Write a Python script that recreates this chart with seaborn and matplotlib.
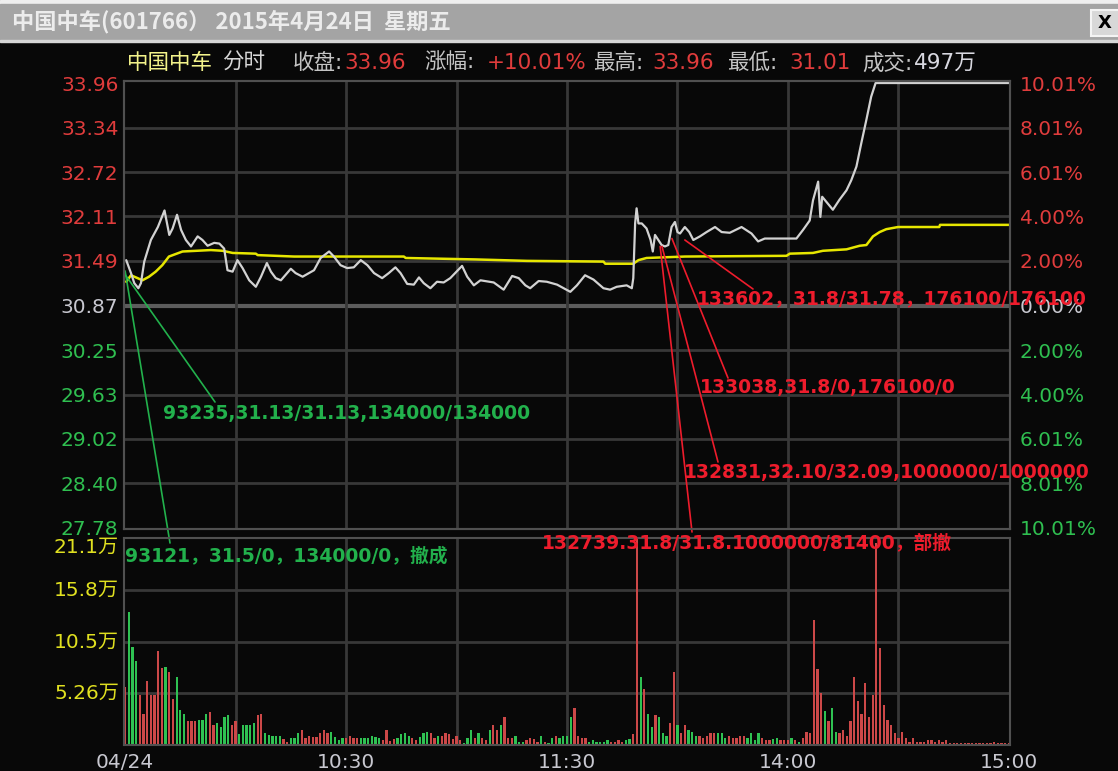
import pandas as pd
import seaborn as sns
import matplotlib.pyplot as plt
import matplotlib.transforms as mtransforms
from matplotlib.patches import Rectangle

# 1) Data (minutes counted from 9:30, lunch break removed)
price_min = [0.3, 1.6, 2.5, 3.6, 4.3, 5.2, 7.0, 8.9, 10.7, 12.0, 12.9, 14.1, 15.2, 16.5, 17.9,
             19.7, 21.0, 22.4, 24.2, 25.6, 26.9, 27.8, 29.2, 30.5, 31.9, 33.7, 35.5, 36.9, 38.5,
             39.6, 40.9, 42.3, 45.0, 46.3, 48.2, 51.3, 53.1, 55.4, 56.7, 58.5, 60.3, 62.1, 64.0,
             65.8, 67.6, 69.8, 71.6, 73.4, 74.8, 76.6, 78.4, 79.8, 81.1, 82.9, 84.7, 86.5, 88.3,
             91.5, 92.9, 94.7, 96.5, 100.1, 102.8, 105.1, 106.9, 108.7, 110.0, 112.3, 114.5,
             117.3, 120.9, 122.7, 124.9, 127.2, 129.9, 131.7, 133.5, 136.2, 137.6, 138.0, 138.5,
             138.9, 139.4, 140.3, 141.6, 142.7, 143.3, 143.9, 144.8, 145.7, 146.6, 147.5, 148.4,
             149.3, 150.0, 150.7, 152.0, 153.2, 154.3, 156.1, 157.9, 160.2, 162.0, 164.2, 167.4,
             170.1, 171.9, 173.7, 176.0, 179.6, 182.3, 184.1, 185.9, 186.8, 188.2, 188.8, 189.3,
             192.2, 194.0, 195.9, 197.2, 198.6, 199.9, 201.3, 202.6, 203.8, 240.0]
price_val = [31.50, 31.32, 31.18, 31.11, 31.18, 31.48, 31.78, 31.96, 32.19, 31.85, 31.94, 32.13,
             31.92, 31.78, 31.69, 31.83, 31.78, 31.70, 31.74, 31.73, 31.66, 31.36, 31.34, 31.50,
             31.39, 31.22, 31.13, 31.27, 31.46, 31.34, 31.25, 31.22, 31.38, 31.32, 31.27, 31.36,
             31.53, 31.62, 31.55, 31.43, 31.39, 31.40, 31.50, 31.43, 31.32, 31.25, 31.32, 31.40,
             31.32, 31.17, 31.16, 31.26, 31.18, 31.11, 31.20, 31.19, 31.25, 31.42, 31.27, 31.15,
             31.22, 31.19, 31.09, 31.28, 31.25, 31.15, 31.11, 31.21, 31.20, 31.16, 31.06, 31.15,
             31.29, 31.23, 31.11, 31.09, 31.13, 31.15, 31.11, 31.25, 32.01, 32.22, 32.01, 32.01,
             31.94, 31.78, 31.62, 31.85, 31.78, 31.71, 31.69, 31.71, 31.96, 32.03, 31.89, 31.87,
             31.96, 31.89, 31.78, 31.83, 31.89, 31.96, 31.89, 31.88, 31.96, 31.87, 31.76, 31.80,
             31.80, 31.80, 31.80, 31.92, 32.05, 32.33, 32.59, 32.10, 32.38, 32.20, 32.34, 32.47,
             32.61, 32.80, 33.12, 33.45, 33.77, 33.96, 33.96]

avg_min = [0.3, 1.6, 3.4, 4.7, 6.5, 8.3, 10.1, 11.9, 15.6, 23.3, 26.5, 29.2, 35.5, 36.0, 45.9,
           75.7, 76.2, 95.1, 109.1, 129.9, 130.4, 138.0, 139.4, 141.6, 152.0, 179.6, 180.5,
           186.8, 189.5, 195.9, 199.5, 201.3, 203.1, 204.9, 206.7, 209.9, 221.1, 221.3, 240.0]
avg_val = [31.20, 31.29, 31.25, 31.22, 31.27, 31.34, 31.43, 31.55, 31.62, 31.64, 31.63, 31.60,
           31.59, 31.57, 31.55, 31.55, 31.53, 31.51, 31.49, 31.48, 31.45, 31.45, 31.50, 31.53,
           31.55, 31.56, 31.59, 31.60, 31.63, 31.65, 31.70, 31.71, 31.83, 31.89, 31.93, 31.96,
           31.96, 31.99, 31.99]

# volume per minute, in 万
vol = [5.95, 13.57, 10.03, 8.59, 5.09, 3.16, 6.53, 5.09, 5.09, 9.62,
       7.84, 7.90, 7.49, 4.71, 6.94, 3.61, 3.16, 2.41, 2.41, 2.41,
       2.58, 2.58, 3.16, 3.40, 2.06, 2.23, 1.79, 2.82, 3.02, 2.06,
       2.41, 1.10, 2.06, 1.99, 2.06, 2.23, 3.02, 3.16, 1.24, 1.03,
       0.96, 0.96, 0.96, 0.62, 0.34, 0.76, 0.76, 1.20, 1.55, 0.69,
       0.96, 0.86, 0.86, 1.20, 1.55, 1.20, 1.37, 0.86, 0.52, 0.76,
       0.69, 0.96, 0.69, 0.76, 0.69, 0.69, 0.76, 0.96, 0.86, 0.69,
       0.52, 1.55, 0.41, 0.62, 0.69, 1.10, 1.20, 0.96, 0.69, 0.52,
       0.86, 1.20, 1.37, 1.20, 0.69, 0.96, 0.96, 1.20, 1.10, 0.62,
       0.96, 0.52, 0.17, 0.69, 1.55, 0.69, 1.20, 0.69, 0.52, 1.55,
       1.99, 1.55, 1.99, 2.82, 0.76, 0.76, 0.96, 0.34, 0.34, 0.52,
       0.76, 0.62, 0.34, 0.96, 0.34, 0.17, 0.76, 0.96, 0.76, 0.96,
       0.96, 2.82, 3.78, 0.96, 0.76, 0.76, 0.34, 0.52, 0.34, 0.34,
       0.34, 0.52, 0.34, 0.34, 0.52, 0.34, 0.52, 0.62, 1.15, 21.5,
       6.94, 5.67, 3.16, 1.79, 3.02, 2.82, 1.20, 0.96, 2.23, 7.49,
       1.99, 1.20, 1.99, 1.55, 1.37, 0.96, 0.96, 0.76, 0.96, 1.20,
       1.20, 1.20, 1.20, 0.76, 0.96, 0.76, 0.76, 0.96, 0.96, 0.76,
       1.20, 0.52, 1.20, 0.76, 0.52, 0.52, 0.62, 0.76, 0.52, 0.52,
       0.52, 0.76, 0.52, 0.34, 0.76, 1.37, 1.20, 12.78, 7.73, 5.26,
       3.44, 2.41, 3.78, 1.37, 1.20, 1.55, 0.96, 2.41, 6.94, 4.47,
       3.16, 6.36, 2.82, 5.09, 20.6, 9.90, 4.12, 2.58, 1.99, 1.20,
       0.76, 1.37, 0.76, 0.34, 0.76, 0.34, 0.34, 0.34, 0.52, 0.52,
       0.34, 0.52, 0.34, 0.52, 0.17, 0.17, 0.20, 0.17, 0.17, 0.17,
       0.20, 0.17, 0.17, 0.20, 0.17, 0.17, 0.34, 0.20, 0.17, 0.20,
       0.17]
# r = up tick (red), g = down tick (green)
vol_dir = list("rgggrrrrrr" "rgrrgggrrr" "gggrrggggr" "rgggggrrgg" "gggrrgggrr"
               "rrrrrrgggg" "rrrrgggggg" "rrrrggggrr" "gggrrgrrrr" "rrgggrgrrg"
               "rrgrrrgggr" "rrrgrggrgg" "ggrrrrgggg" "ggrrrrggrr" "grggrgggrr"
               "grrgggrrrr" "rgggrrrrrg" "gggrrrggrr" "rgrgrrrrrr" "grggrrrrrr"
               "rrrrrrrrrr" "rrrrrrrrrr" "rrrrrrrrrr" "rrrrrrrrrr" "r")

prev_close = 30.87
price_ticks = [33.96, 33.34, 32.72, 32.11, 31.49, 30.87, 30.25, 29.63, 29.02, 28.40, 27.78]
pct_labels = ['10.01%', '8.01%', '6.01%', '4.00%', '2.00%', '0.00%',
              '2.00%', '4.00%', '6.01%', '8.01%', '10.01%']
vol_ticks = [5.26, 10.5, 15.8, 21.1]
vol_labels = ['5.26万', '10.5万', '15.8万', '21.1万']
time_ticks = [0, 60, 120, 180, 240]
time_labels = ['04/24', '10:30', '11:30', '14:00', '15:00']

close_px, change_pct, high_px, low_px, total_vol = 33.96, 10.01, 33.96, 31.01, 497

# order annotations: text, start point on the price line, colour
ann_text = ['93235,31.13/31.13,134000/134000', '93121，31.5/0，134000/0，撤成',
            '133602，31.8/31.78，176100/176100', '133038,31.8/0,176100/0',
            '132831,32.10/32.09,1000000/1000000', '132739.31.8/31.8.1000000/81400，部撤']
ann_min = [0.0, 0.0, 152.0, 148.5, 145.8, 145.3]
ann_price = [31.30, 31.35, 31.78, 31.80, 31.69, 31.69]
ann_up = [False, False, True, True, True, True]

# 2) Style
sns.set_theme(style="dark", rc={'axes.facecolor': '#080808', 'figure.facecolor': '#080808'})
plt.rcParams['font.family'] = ['DejaVu Sans', 'Noto Sans CJK SC']
plt.rcParams['axes.unicode_minus'] = False

W, H = 1118, 771
BG = '#080808'
GRID = '#383838'
RED = '#e03c3c'
GREEN = '#2fbf50'
GRAY = '#c4c4c4'
ANN_RED = '#ee1c2c'
ANN_GREEN = '#22b14c'

fig = plt.figure(figsize=(W / 100, H / 100), dpi=100, facecolor=BG)


def rect(l, t, r, b):
    return [l / W, 1 - b / H, (r - l) / W, (b - t) / H]


def ftext(x, y, s, **kw):
    return fig.text(x / W, 1 - y / H, s, **kw)


# title bar
fig.add_artist(Rectangle((0, 1 - 4 / H), 1, 4 / H, transform=fig.transFigure, color='#efefef'))
fig.add_artist(Rectangle((0, 1 - 40 / H), 1, 36 / H, transform=fig.transFigure, color='#a4a4a4'))
fig.add_artist(Rectangle((0, 1 - 42 / H), 1, 2 / H, transform=fig.transFigure, color='#d6d6d6'))
ftext(12, 22, '中国中车(601766） 2015年4月24日  星期五', color='#ececec', fontsize=16,
      fontweight='bold', va='center', family=['Noto Sans CJK SC', 'DejaVu Sans'])
fig.add_artist(Rectangle((1091 / W, 1 - 36 / H), 30 / W, 26 / H, transform=fig.transFigure,
                         facecolor='#d8d8d8', edgecolor='#f4f4f4', lw=1.5))
ftext(1105, 23, 'X', color='black', fontsize=13, fontweight='bold', ha='center', va='center')

# header line
header = [(127, '中国中车', '#f2f28a'), (222, '分时', '#d6d6d6'), (293, '收盘:', GRAY),
          (344, f'{close_px:.2f}', RED), (424, '涨幅:', GRAY), (487, f'+{change_pct:.2f}%', RED),
          (593, '最高:', GRAY), (652, f'{high_px:.2f}', RED), (727, '最低:', GRAY),
          (789, f'{low_px:.2f}', RED), (862, '成交:', GRAY), (914, f'{total_vol}万', '#d8d8e0')]
for x, s, c in header:
    ftext(x, 63, s, color=c, fontsize=15.5, va='center')

# 3) Price panel
ax = fig.add_axes(rect(124, 81, 1010, 529))
axv = fig.add_axes(rect(124, 538, 1010, 745))
for a in (ax, axv):
    a.set_facecolor(BG)
    a.grid(False)
    for sp in a.spines.values():
        sp.set_color('#505050')
        sp.set_linewidth(1.5)
axv.patch.set_visible(False)

for p in price_ticks[1:-1]:
    if p == prev_close:
        ax.axhline(p, color='#5c5c5c', lw=3, zorder=0.5)
    else:
        ax.axhline(p, color=GRID, lw=2, zorder=0.5)
for m in range(30, 240, 30):
    ax.axvline(m, color=GRID, lw=2, zorder=0.5)
    axv.axvline(m, color=GRID, lw=2, zorder=0.5)
for v in vol_ticks[:-1]:
    axv.axhline(v, color=GRID, lw=2, zorder=0.5)

sns.lineplot(x=avg_min, y=avg_val, ax=ax, color='#e6e600', lw=1.8, estimator=None, sort=False)
sns.lineplot(x=price_min, y=price_val, ax=ax, color='#d2d2d2', lw=1.6, estimator=None, sort=False)

ax.set_xlim(-0.3, 240.3)
ax.set_ylim(27.78 - 0.014, 33.96 + 0.028)
ax.set_xlabel('')
ax.set_ylabel('')
ax.set_xticks(time_ticks)
ax.tick_params(axis='x', length=0, labelbottom=False)
ax.set_yticks(price_ticks)
ax.set_yticklabels([f'{p:.2f}' for p in price_ticks])
ax.tick_params(axis='y', length=0, pad=4, labelsize=14.5)


def tick_color(p):
    if p > prev_close:
        return RED
    if p < prev_close:
        return GREEN
    return '#c8c8d0'


for lbl, p in zip(ax.get_yticklabels(), price_ticks):
    lbl.set_color(tick_color(p))

ax2 = ax.twinx()
ax2.set_ylim(ax.get_ylim())
ax2.grid(False)
ax2.set_yticks(price_ticks)
ax2.set_yticklabels(pct_labels)
ax2.tick_params(axis='y', length=0, pad=7, labelsize=14.5)
for sp in ax2.spines.values():
    sp.set_color('#505050')
    sp.set_linewidth(1.5)
for lbl, p in zip(ax2.get_yticklabels(), price_ticks):
    lbl.set_color(tick_color(p))

# 4) Volume panel
df = pd.DataFrame({'minute': range(len(vol)), 'vol': vol, 'dir': vol_dir})
sns.barplot(data=df, x='minute', y='vol', hue='dir', palette={'r': '#cc4848', 'g': '#2fc252'},
            native_scale=True, dodge=False, width=0.62, saturation=1, errorbar=None,
            legend=False, linewidth=0, ax=axv)
axv.set_xlim(-0.3, 240.3)
axv.set_ylim(0, 21.1)
axv.set_xlabel('')
axv.set_ylabel('')
axv.set_yticks([])
axv.set_xticks(time_ticks)
axv.set_xticklabels(time_labels)
axv.tick_params(axis='x', length=0, pad=6, labelsize=14.5, colors='#c8c8d0')

trans = mtransforms.blended_transform_factory(axv.transAxes, axv.transData)
for v, s in zip(vol_ticks, vol_labels):
    axv.text(-5 / 886, v, s, transform=trans, ha='right',
             va='top' if v == vol_ticks[-1] else 'center', color='#e0e020', fontsize=14.5)

# 5) Order annotations (they sit on top of the axis labels, as in the terminal screenshot)
ann_end = [(215, 402), (170, 543), (753, 289), (728, 378), (718, 462), (692, 532)]
ann_pos = [(163, 414), (125, 556), (697, 299), (700, 388), (684, 472), (542, 543)]
for s, m, p, up, (ex, ey), (tx, ty) in zip(ann_text, ann_min, ann_price, ann_up, ann_end, ann_pos):
    c = ANN_RED if up else ANN_GREEN
    ax.annotate('', xy=(m, p), xycoords='data', xytext=(ex, H - ey), textcoords='figure pixels',
                arrowprops=dict(arrowstyle='-', color=c, lw=1.2, shrinkA=0, shrinkB=0),
                annotation_clip=False)
    ftext(tx, ty, s, color=c, fontsize=13.5, fontweight='bold', va='center', zorder=10)

fig.savefig('out.png', dpi=100, facecolor=BG)
